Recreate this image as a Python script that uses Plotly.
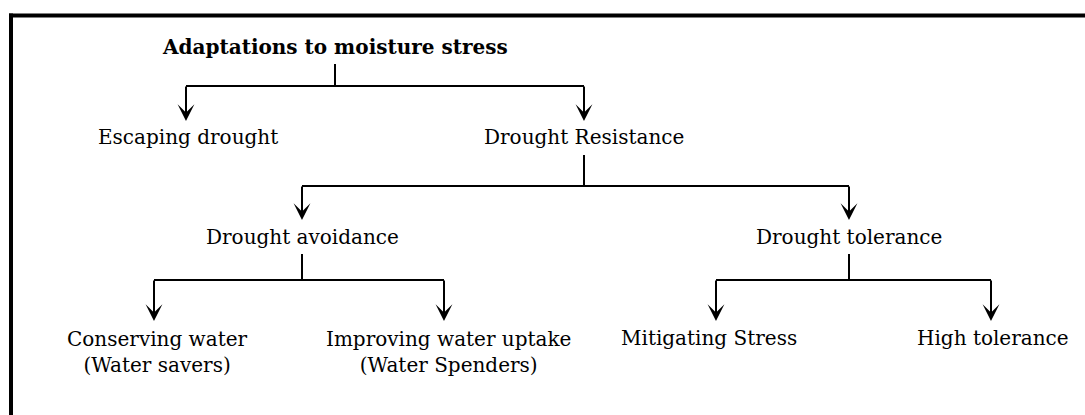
import plotly.graph_objects as go

# ---- diagram content ----
node_labels = [
    "Adaptations to moisture stress",
    "Escaping drought",
    "Drought Resistance",
    "Drought avoidance",
    "Drought tolerance",
    "Conserving water<br>(Water savers)",
    "Improving water uptake<br>(Water Spenders)",
    "Mitigating Stress",
    "High tolerance",
]
node_bold = [True, False, False, False, False, False, False, False, False]
node_x = [335, 188, 584, 302, 849, 157, 448, 709, 993]
node_y = [47, 137, 137, 237, 237, 352, 352, 338, 338]

# branching groups: parent index, stem x, stem top y, bar y, child arrow x's, arrow tip y
group_parent = [0, 2, 3, 4]
stem_x = [335, 584, 302, 849]
stem_top = [64, 155, 254, 254]
bar_y = [86, 186, 280, 280]
arrow_x = [[186, 584], [302, 849], [154, 444], [716, 991]]
arrow_tip = [121, 220, 321, 321]

W, H = 1085, 415
FONT = "DejaVu Serif"

fig = go.Figure()

# connectors (stem + horizontal bar)
for sx, st, by, ax in zip(stem_x, stem_top, bar_y, arrow_x):
    fig.add_trace(go.Scatter(
        x=[sx, sx, None, min(ax), max(ax)],
        y=[st, by, None, by, by],
        mode="lines", line=dict(color="black", width=2),
        hoverinfo="skip", showlegend=False))

# arrows down to children
for by, ax, tip in zip(bar_y, arrow_x, arrow_tip):
    for x in ax:
        fig.add_annotation(x=x, y=tip, ax=x, ay=by - 1, xref="x", yref="y",
                           axref="x", ayref="y", text="", showarrow=True,
                           arrowhead=3, arrowsize=1.4, arrowwidth=2,
                           arrowcolor="black", standoff=0, startstandoff=0)

# node labels
for lab, b, x, y in zip(node_labels, node_bold, node_x, node_y):
    fig.add_annotation(x=x, y=y, xref="x", yref="y", text=f"<b>{lab}</b>" if b else lab,
                       showarrow=False, xanchor="center", yanchor="middle",
                       font=dict(family=FONT, size=20, color="black"))

# frame: top and left border
fig.add_shape(type="line", xref="x", yref="y", x0=9, x1=W, y0=15.5, y1=15.5,
              line=dict(color="black", width=4))
fig.add_shape(type="line", xref="x", yref="y", x0=11, x1=11, y0=13.5, y1=H,
              line=dict(color="black", width=4))

fig.update_layout(
    width=W, height=H, margin=dict(l=0, r=0, t=0, b=0),
    paper_bgcolor="white", plot_bgcolor="white",
    xaxis=dict(range=[0, W], visible=False, fixedrange=True),
    yaxis=dict(range=[H, 0], visible=False, fixedrange=True),
)

fig.write_html("out.html", config={"displayModeBar": False},
               post_script="document.body.style.margin='0';")
